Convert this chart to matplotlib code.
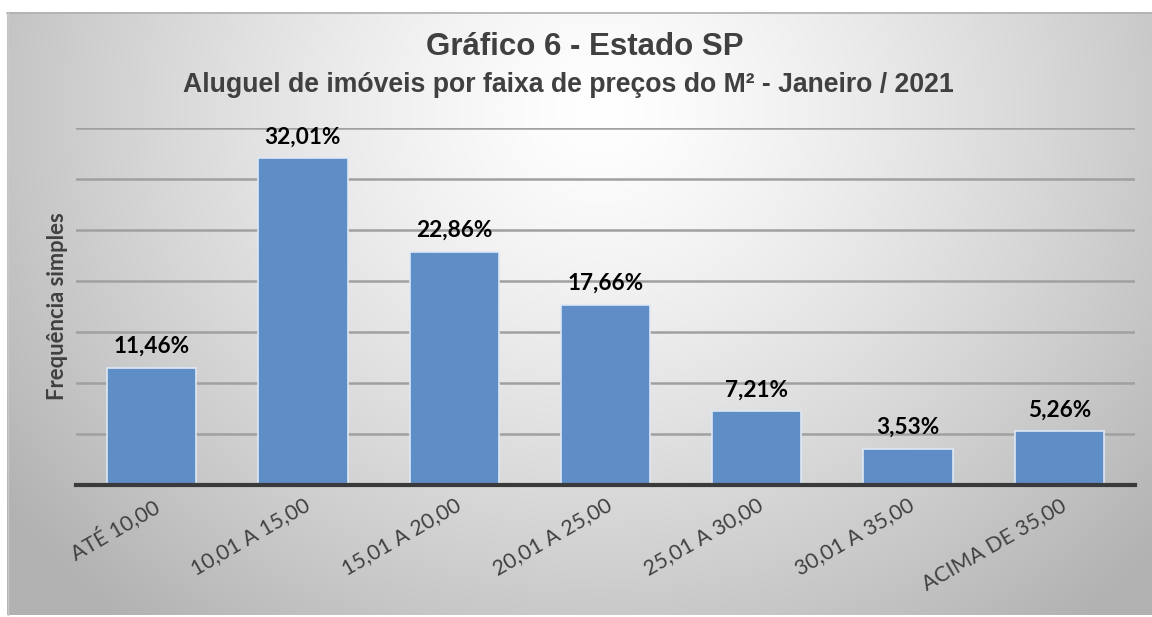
import numpy as np
import matplotlib
matplotlib.use("Agg")
import matplotlib.pyplot as plt

categories = ["ATÉ 10,00", "10,01 A 15,00", "15,01 A 20,00", "20,01 A 25,00",
              "25,01 A 30,00", "30,01 A 35,00", "ACIMA DE 35,00"]
values = [11.46, 32.01, 22.86, 17.66, 7.21, 3.53, 5.26]
labels = ["11,46%", "32,01%", "22,86%", "17,66%", "7,21%", "3,53%", "5,26%"]
title = "Gráfico 6 - Estado SP"
subtitle = "Aluguel de imóveis por faixa de preços do M² - Janeiro / 2021"
ylabel = "Frequência simples"

W, H = 1152, 617
fig = plt.figure(figsize=(W / 100, H / 100), dpi=100)
fig.patch.set_facecolor("white")

# background panel with radial gradient
bg = fig.add_axes([0, 0, 1, 1])
bg.set_xlim(0, W)
bg.set_ylim(H, 0)
bg.axis("off")
x0, y0, x1, y1 = 7, 12, W, 615
xx, yy = np.meshgrid(np.linspace(x0, x1, 400), np.linspace(y0, y1, 220))
cx, cy = 600, 110
r = np.sqrt(((xx - cx) / 620) ** 2 + ((yy - cy) / 560) ** 2)
g = 1.0 - 0.24 * np.clip(r, 0, 1.2) ** 1.3
img = np.dstack([g, g, g])
bg.imshow(img, extent=[x0, x1, y1, y0], aspect="auto", zorder=0)
bg.plot([x0, x1], [y0 + 0.5, y0 + 0.5], color="#b0b0b0", lw=1.2, zorder=1)
bg.plot([x0 + 0.5, x0 + 0.5], [y0, y1], color="#c8c8c8", lw=1.0, zorder=1)

ax = fig.add_axes([76 / W, (H - 485) / H, (1135 - 76) / W, (485 - 128) / H])
ax.patch.set_alpha(0)
x = np.arange(len(categories))
ax.set_xlim(-0.5, len(categories) - 0.5)
ax.set_ylim(0, 35)
ax.set_yticks(np.arange(5, 36, 5))
ax.yaxis.grid(True, color="#a0a0a0", lw=1.8, zorder=0)
ax.set_axisbelow(True)
ax.tick_params(axis="y", length=0, labelleft=False)
ax.tick_params(axis="x", length=0, pad=7)
for s in ["top", "right", "left"]:
    ax.spines[s].set_visible(False)
ax.spines["bottom"].set_color("#3a3a3a")
ax.spines["bottom"].set_linewidth(3)
ax.spines["bottom"].set_zorder(5)

bars = ax.bar(x, values, width=0.59, color="#5F8DC6", edgecolor="#dde8f5",
              linewidth=1.2, zorder=3)
for xi, v, lab in zip(x, values, labels):
    ax.annotate(lab, (xi, v), xytext=(0, 8), textcoords="offset points",
                ha="center", va="bottom", fontsize=16.3, fontweight="bold",
                family="Lato", color="black")

ax.set_xticks(x)
ax.set_xticklabels(categories, rotation=30, ha="right", va="top",
                   rotation_mode="anchor", fontsize=15.3, family="Lato",
                   color="#404040")

fig.text(58 / W, 1 - 306 / H, ylabel, rotation=90, ha="center", va="center",
         fontsize=15.8, fontweight="bold", family="Lato", color="#404040")
fig.text(585 / W, 1 - 47 / H, title, ha="center", va="center",
         fontsize=22.5, fontweight="bold", family="Liberation Sans", color="#404040")
fig.text(568 / W, 1 - 85 / H, subtitle, ha="center", va="center",
         fontsize=19.2, fontweight="bold", family="Liberation Sans", color="#404040")

fig.savefig("out.png", dpi=100)
